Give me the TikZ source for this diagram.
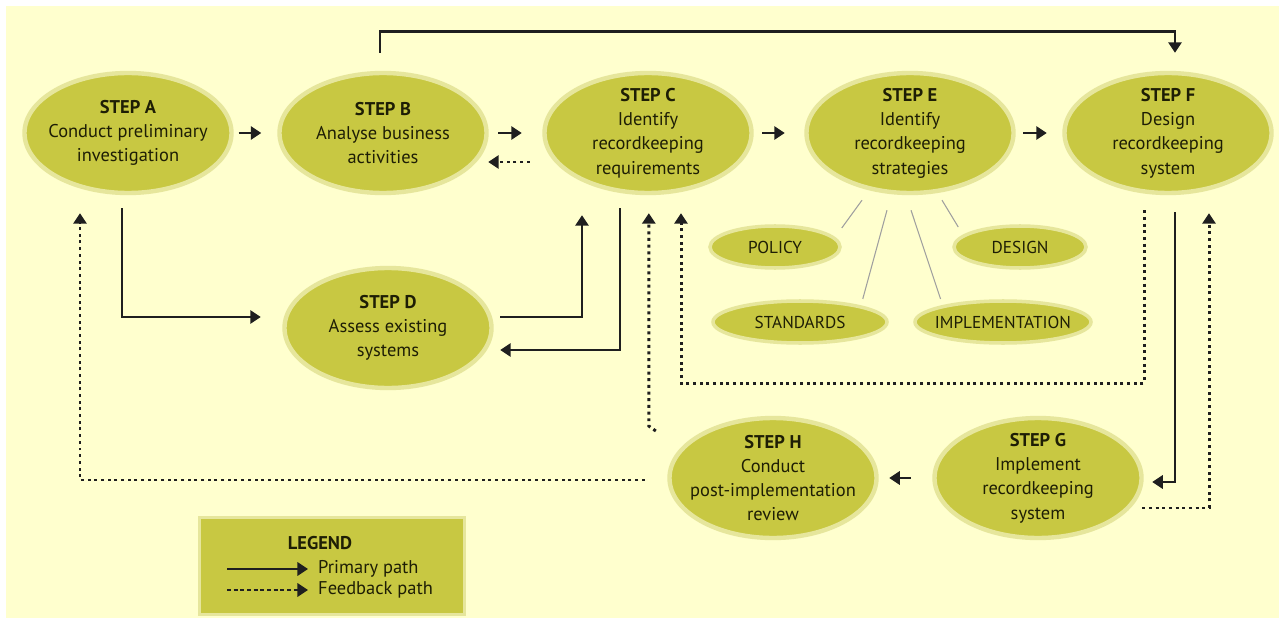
\documentclass[tikz,border=0pt]{standalone}
\usepackage{fontspec}
\setmainfont{PT Sans}
\usetikzlibrary{arrows.meta,calc,positioning,shapes.geometric}

\definecolor{cream}{RGB}{255,255,206}
\definecolor{olive}{RGB}{200,200,66}
\definecolor{halo}{RGB}{230,230,156}
\definecolor{ink}{RGB}{30,30,5}

\begin{document}
\begin{tikzpicture}[
  >={Triangle[length=6pt,width=7.5pt]},
  font=\fontsize{10.5}{13.8}\selectfont,
  text=ink,
  stp/.style={ellipse,fill=olive,draw=halo,line width=2.5pt,minimum width=4.14cm,
    minimum height=2.4cm,inner xsep=-14pt,inner ysep=-6pt,align=center},
  sub/.style={ellipse,fill=olive,draw=halo,line width=2pt,minimum height=0.84cm,
    inner xsep=-6pt,inner ysep=0pt,font=\fontsize{9.8}{11}\selectfont},
  prim/.style={->,line width=1.6pt,black!88},
  feed/.style={->,line width=1.7pt,black!88,dash pattern=on 1.7pt off 2.1pt},
  spoke/.style={gray!75,line width=0.6pt}
]
  \useasboundingbox (0,0) rectangle (25.58,-12.36);
  \fill[white] (0,0) rectangle (25.58,-12.36);
  \fill[cream] (0.12,-0.12) rectangle (25.58,-12.36);

  % steps
  \node[stp] (A) at (2.56,-2.66) {\textbf{STEP A}\\Conduct preliminary\\investigation};
  \node[stp] (B) at (7.66,-2.66) {\textbf{STEP B}\\Analyse business\\activities};
  \node[stp] (C) at (12.96,-2.66) {\textbf{STEP C}\\Identify\\recordkeeping\\requirements};
  \node[stp] (E) at (18.2,-2.66) {\textbf{STEP E}\\Identify\\recordkeeping\\strategies};
  \node[stp] (F) at (23.36,-2.66) {\textbf{STEP F}\\Design\\recordkeeping\\system};
  \node[stp] (D) at (7.76,-6.56) {\textbf{STEP D}\\Assess existing\\systems};
  \node[stp] (H) at (15.46,-9.56) {\textbf{STEP H}\\Conduct\\post-implementation\\review};
  \node[stp] (G) at (20.76,-9.56) {\textbf{STEP G}\\Implement\\recordkeeping\\system};

  % strategies
  \node[sub,minimum width=2.6cm] (POL) at (15.5,-4.94) {POLICY};
  \node[sub,minimum width=2.64cm] (DES) at (20.4,-4.94) {DESIGN};
  \node[sub,minimum width=3.48cm] (STD) at (16.0,-6.44) {STANDARDS};
  \node[sub,minimum width=3.52cm] (IMP) at (20.06,-6.44) {IMPLEMENTATION};

  \draw[spoke] ($(E.south)+(-0.96,-0.1)$) -- ($(POL.east)+(0,0.38)$);
  \draw[spoke] ($(E.south)+(-0.46,-0.3)$) -- ($(STD.north east)+(0,0.14)$);
  \draw[spoke] ($(E.south)+(0.02,-0.3)$) -- ($(IMP.north west)+(0.02,0.14)$);
  \draw[spoke] ($(E.south)+(0.64,-0.1)$) -- ($(DES.west)+(0.12,0.4)$);

  % primary path
  \draw[prim] ($(A.east)+(0.1,0)$) -- ($(B.west)+(-0.32,0)$);
  \draw[prim] ($(B.east)+(0.19,0)$) -- ($(C.west)+(-0.41,0)$);
  \draw[prim] ($(C.east)+(0.17,0)$) -- ($(E.west)+(-0.39,0)$);
  \draw[prim] ($(E.east)+(0.15,0)$) -- ($(F.west)+(-0.31,0)$);
  \draw[prim] ($(G.west)+(-0.43,0)$) -- ($(H.east)+(0.21,0)$);
  \draw[prim] ($(B.north)+(-0.06,0.36)$) -- ++(0,0.42)
    -| ($(F.north)+(0.14,0.36)$);
  \draw[prim] ($(A.south)+(-0.12,-0.26)$) |- ($(D.west)+(-0.43,0.22)$);
  \draw[prim] ($(D.east)+(0.13,0.22)$) -| ($(C.south)+(-1.32,-0.4)$);
  \draw[prim] ($(C.south)+(-0.56,-0.26)$) |- ($(D.east)+(0.13,-0.44)$);
  \draw[prim] ($(F.south)+(0.14,-0.34)$) |- ($(G.east)+(0.17,-0.08)$);

  % feedback path
  \draw[feed] ($(C.west)+(-0.25,-0.58)$) -- ($(B.east)+(-0.01,-0.58)$);
  \draw[feed] ($(F.south)+(-0.48,-0.3)$) -- ++(0,-3.46)
    -| ($(C.south)+(0.66,-0.36)$);
  \draw[feed,shorten >=0.36cm] ($(H.west)+(-0.23,0.94)$) -- ++(-0.14,0.1)
    coordinate (hk) -- (hk |- C.south);
  \draw[feed] ($(H.west)+(-0.45,-0.04)$) -| ($(A.south)+(-0.96,-0.36)$);
  \draw[feed] ($(G.east)+(-0.03,-0.6)$) -| ($(F.south)+(0.82,-0.36)$);

  % legend
  \node[rectangle,fill=olive,draw=halo,line width=2pt,minimum width=5.3cm,
    minimum height=1.94cm] (LEG) at (6.64,-11.32) {};
  \node[font=\fontsize{10.5}{12}\selectfont\bfseries] (LEGt) at (6.4,-10.86) {LEGEND};
  \node[anchor=west] (PRIM) at (6.24,-11.38) {Primary path};
  \node[anchor=west] (FEED) at (6.24,-11.8) {Feedback path};
  \draw[prim] ($(PRIM.west)+(-1.7,0)$) -- ($(PRIM.west)+(-0.08,0)$);
  \draw[feed,dash pattern=on 2.2pt off 1.6pt] ($(FEED.west)+(-1.7,0)$)
    -- ($(FEED.west)+(-0.08,0)$);
\end{tikzpicture}
\end{document}
